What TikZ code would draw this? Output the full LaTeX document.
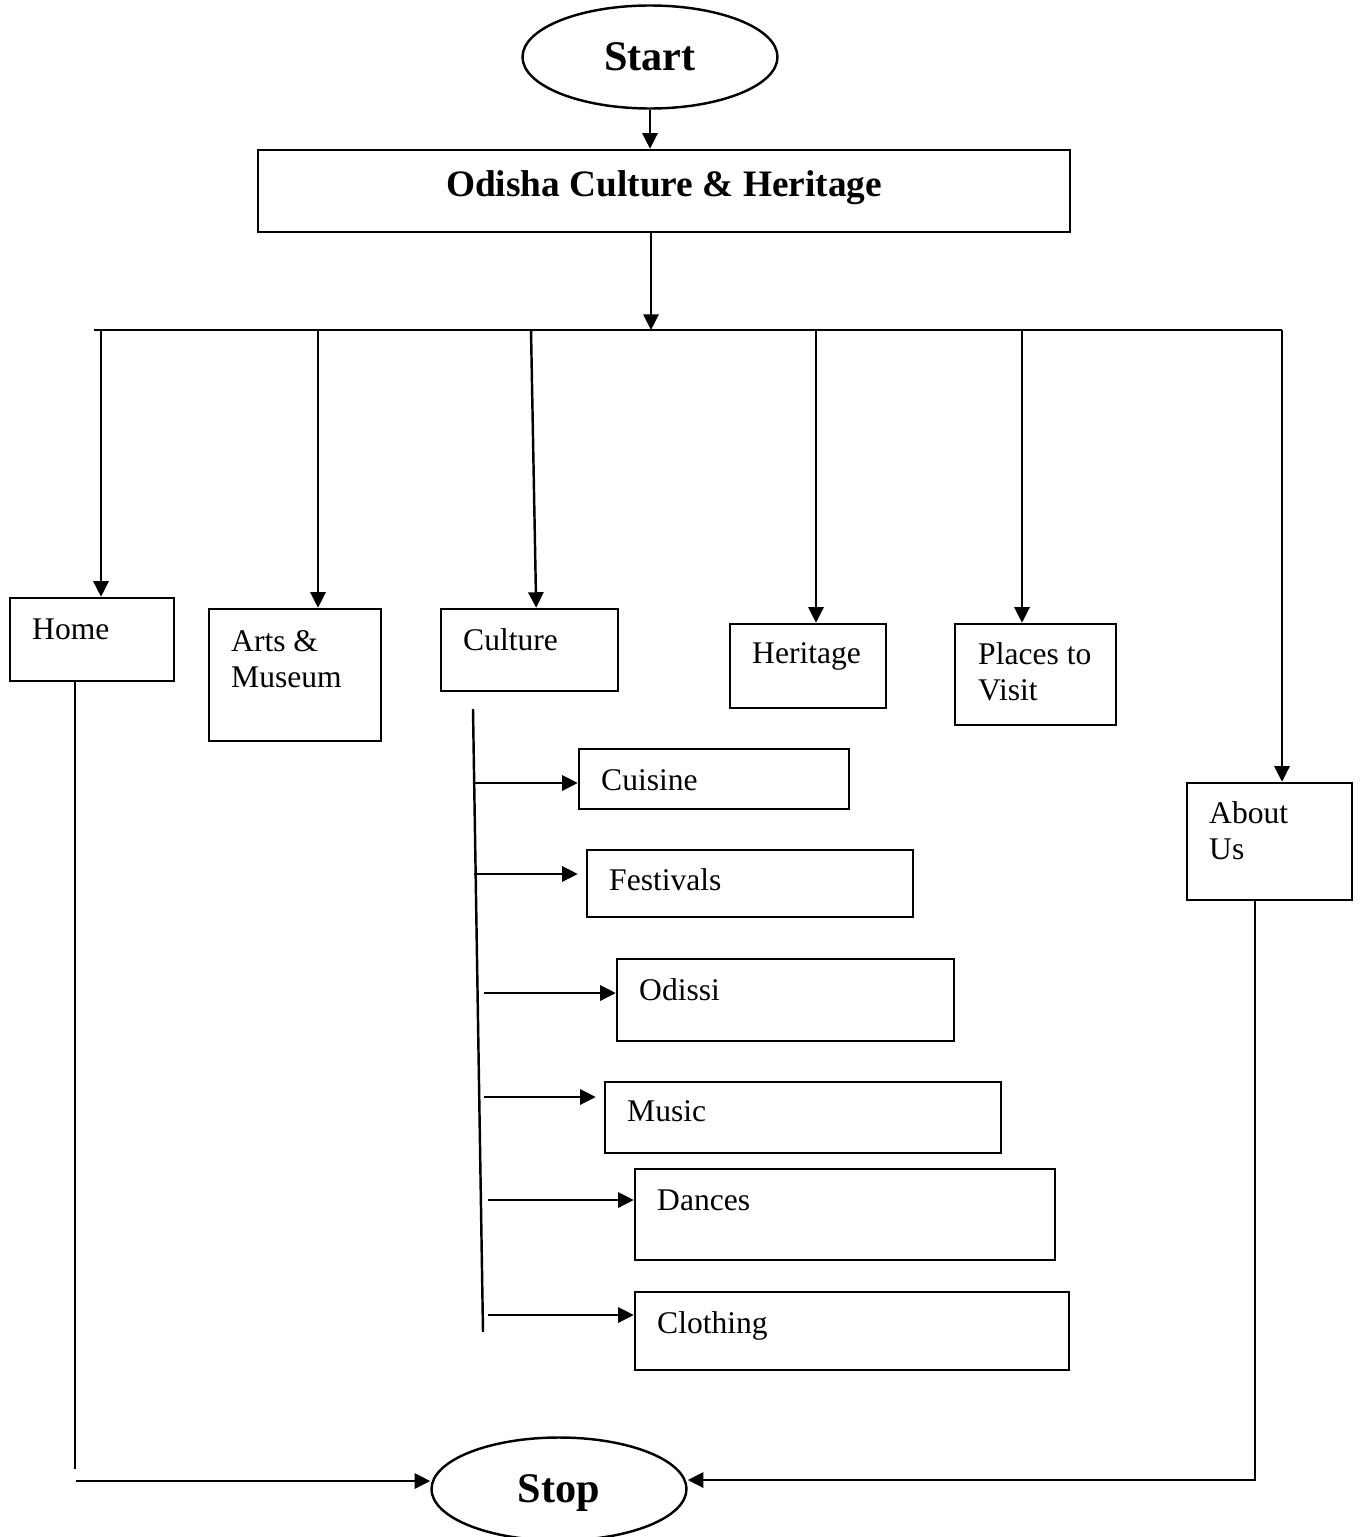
\documentclass[tikz,border=0pt]{standalone}
\usepackage{fontspec}
\setmainfont{Liberation Serif}
\usepackage{tikz}
\usetikzlibrary{arrows.meta}
\usetikzlibrary{shapes}
\usetikzlibrary{fit}

\begin{document}
\begin{tikzpicture}[x=0.45pt, y=-0.45pt, line width=1.1pt]
            \tikzset{box/.style={draw, inner sep=0pt},
                    term/.style={draw, ellipse, inner sep=0pt, text depth=0pt,
                        minimum width=255*0.45pt, minimum height=103*0.45pt,
                        font=\fontsize{19}{23}\selectfont\bfseries},
                    item/.style={inner sep=0pt, anchor=base west, align=left,
                        font=\fontsize{14.2}{16.2}\selectfont},
                    >={Triangle[length=7pt, width=6.8pt]}}
            \useasboundingbox (0,0) rectangle (1359,1537);
            % top
            \node[term] (start) at (650,57) {Start};
            \node[box, fit={(258,150) (1070,232)}] (head) {};
            \node[anchor=base, inner sep=0pt,
                font=\fontsize{16.8}{20}\selectfont\bfseries] (headt) at (664,196) {Odisha Culture \& Heritage};
            \node[term] (stop) at (559,1489) {Stop};
            % menu
            \node[box, fit={(10,598) (174,681)}] (home) {};
            \node[box, fit={(209,609) (381,741)}] (arts) {};
            \node[box, fit={(441,609) (618,691)}] (cult) {};
            \node[box, fit={(730,624) (886,708)}] (her) {};
            \node[box, fit={(955,624) (1116,725)}] (plc) {};
            \node[box, fit={(1187,783) (1352,900)}] (about) {};
            \node[item] (homet) at (31,639) {Home};
            \node[item] (artst) at (230,687) {Arts \&\\Museum};
            \node[item] (cultt) at (462,650) {Culture};
            \node[item] (hert) at (751,663) {Heritage};
            \node[item] (plct) at (977,700) {Places to\\Visit};
            \node[item] (aboutt) at (1208,859) {About\\Us};
            % culture items
            \node[box, fit={(579,749) (849,809)}] (cuis) {};
            \node[box, fit={(587,850) (913,917)}] (fest) {};
            \node[box, fit={(617,959) (954,1041)}] (odis) {};
            \node[box, fit={(605,1082) (1001,1153)}] (mus) {};
            \node[box, fit={(635,1169) (1055,1260)}] (danc) {};
            \node[box, fit={(635,1292) (1069,1370)}] (cloth) {};
            \node[item] (cuist) at (600,790) {Cuisine};
            \node[item] (festt) at (608,890) {Festivals};
            \node[item] (odist) at (638,1000) {Odissi};
            \node[item] (must) at (626,1121) {Music};
            \node[item] (danct) at (656,1210) {Dances};
            \node[item] (clotht) at (656,1333) {Clothing};
            % connectors
            \coordinate (bus) at (651,330);
            \coordinate (busl) at (94,330);
            \coordinate (busr) at (1282,330);
            \coordinate (t1) at (101,330);
            \coordinate (t2) at (318,330);
            \coordinate (t3) at (531,330);
            \coordinate (t4) at (816,330);
            \coordinate (t5) at (1022,330);
            \draw[->] (start) -- (start.south |- head.north);
            \draw[->] (head.south -| bus) -- (bus);
            \draw (busl) -- (busr);
            \foreach \t/\n in {t1/home, t2/arts, t4/her, t5/plc, busr/about}
                \draw[->] (\t) -- (\t |- \n.north);
            \draw[->] (t3) -- ([xshift=3pt]cult.north);
            \coordinate (vt) at (473,709);
            \coordinate (vb) at (483,1332);
            \draw (vt) -- (vb);
            \coordinate (b1) at (475,783);
            \coordinate (b2) at (474,874);
            \coordinate (b3) at (484,993);
            \coordinate (b4) at (484,1097);
            \coordinate (b5) at (488,1200);
            \coordinate (b6) at (488,1315);
            \foreach \b/\n in {b1/cuis, b3/odis, b5/danc, b6/cloth}
                \draw[->] (\b) -- (\b -| \n.west);
            \foreach \b/\n in {b2/fest, b4/mus}
                \draw[->, shorten >=3.6pt] (\b) -- (\b -| \n.west);
            \coordinate (hb) at (75,1469);
            \coordinate (hc) at (76,1481);
            \coordinate (ac) at (1255,1480);
            \draw (hb |- home.south) -- (hb);
            \draw[->] (hc) -- (hc -| stop.west);
            \draw[->] (ac |- about.south) |- (ac -| stop.east);
        \end{tikzpicture}
\end{document}
